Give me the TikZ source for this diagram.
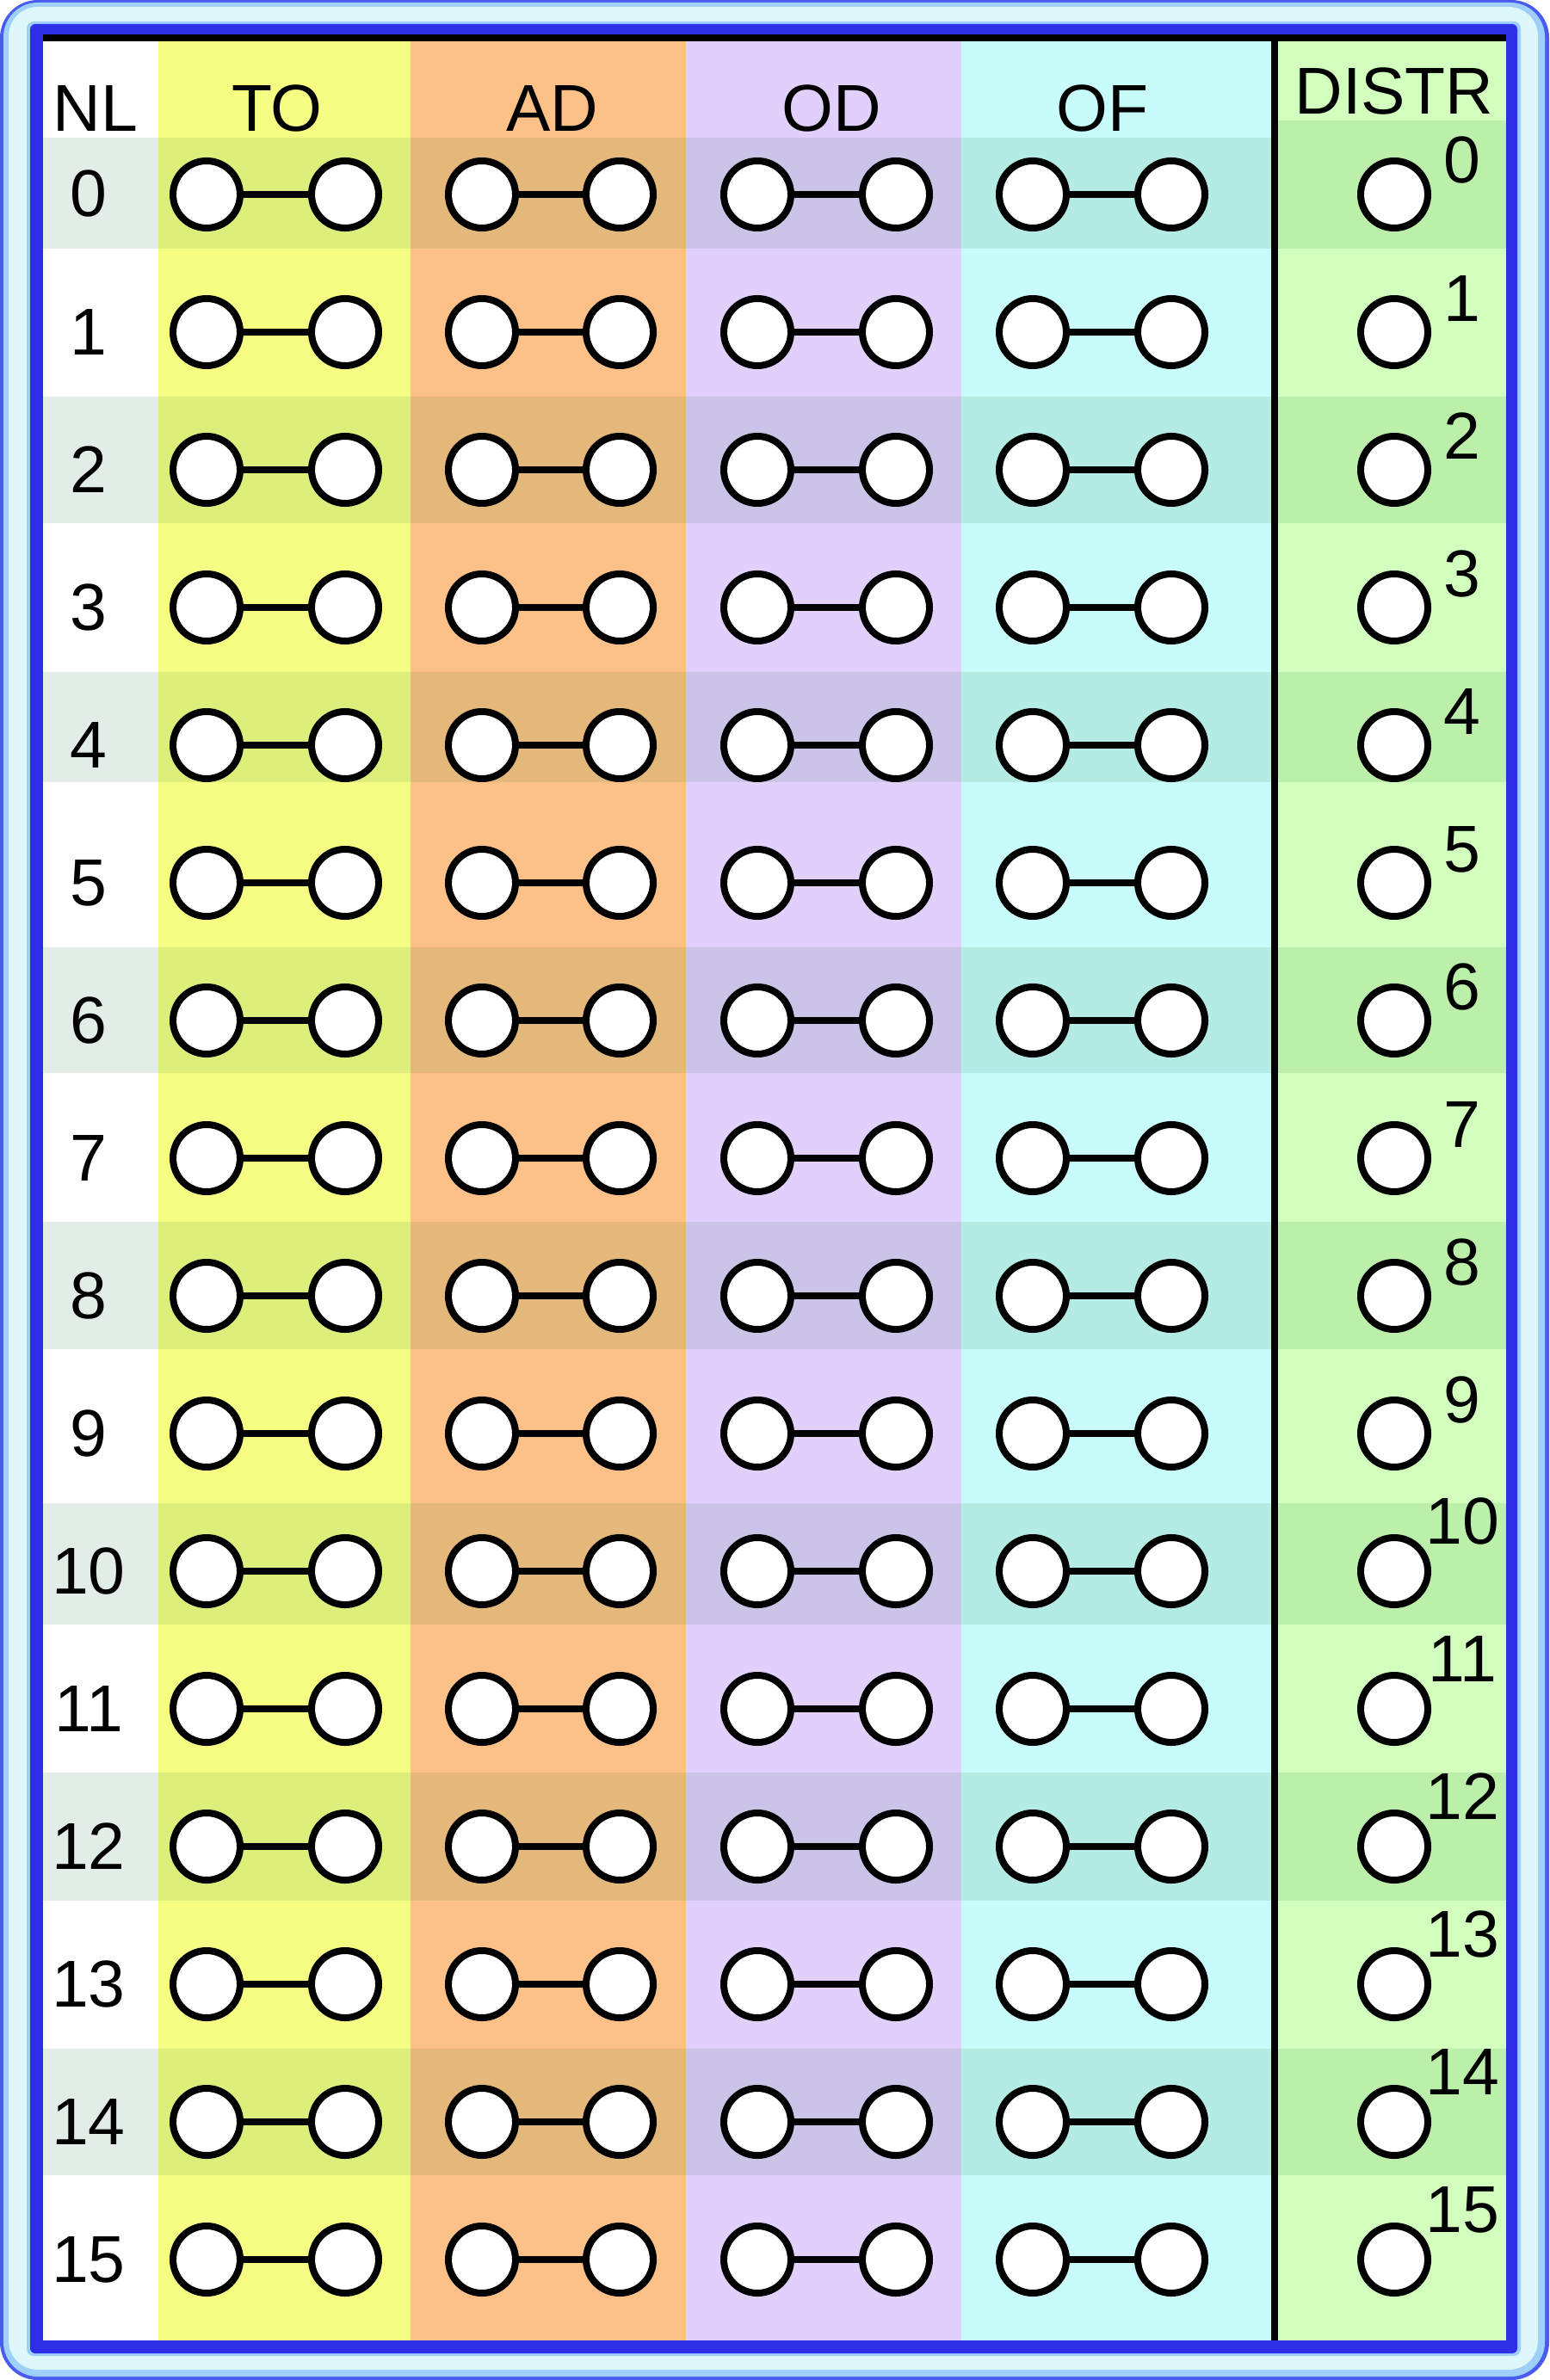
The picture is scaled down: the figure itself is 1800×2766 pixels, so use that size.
\documentclass[tikz,border=0pt]{standalone}
\usepackage{fontspec}
\setmainfont{Liberation Sans}
\definecolor{frameout}{HTML}{4A5CF0}
\definecolor{framelt}{HTML}{9FD0FA}
\definecolor{framepale}{HTML}{DDF7FA}
\definecolor{framedark}{HTML}{2E2EE6}
\definecolor{nlL}{HTML}{FFFFFF}\definecolor{nlD}{HTML}{E3EDE8}
\definecolor{toL}{HTML}{F5FD82}\definecolor{toD}{HTML}{DEEE7A}
\definecolor{adL}{HTML}{FDC087}\definecolor{adD}{HTML}{E4B77A}
\definecolor{odL}{HTML}{E2D0FC}\definecolor{odD}{HTML}{CBC4E8}
\definecolor{ofL}{HTML}{C8FCFA}\definecolor{ofD}{HTML}{B4EBE4}
\definecolor{diL}{HTML}{D2FFBE}\definecolor{diD}{HTML}{BCF0AA}
\begin{document}
\begin{tikzpicture}[x=0.5pt,y=-0.5pt,
  port/.style={circle,draw=black,fill=white,line width=4pt,minimum size=39pt,inner sep=0pt},
  link/.style={line width=3.8pt},
  lbl/.style={font=\fontsize{38.5}{40}\selectfont,inner sep=0pt,anchor=base},
]
\useasboundingbox (0,0) rectangle (1800,2766);
% frame
\fill[frameout,rounded corners=22pt] (0,0) rectangle (1800,2766);
\fill[framelt,rounded corners=20pt] (4,3) rectangle (1795,2762);
\fill[framepale,rounded corners=17pt] (10,8) rectangle (1787,2754);
\fill[framelt,rounded corners=4pt] (31,25) rectangle (1767,2738);
\fill[framedark,rounded corners=3pt] (35,28) rectangle (1763,2735);
% columns
\fill[nlL] (50,48) rectangle (184,2720);
\fill[toL] (184,48) rectangle (477,2720);
\fill[adL] (477,48) rectangle (797,2720);
\fill[odL] (797,48) rectangle (1117,2720);
\fill[ofL] (1117,48) rectangle (1477,2720);
\fill[diL] (1485,48) rectangle (1750,2720);
% even-row bands
\foreach \t/\b in {160/289,461/608,781/909,1101/1247,1420/1568,1747/1888,2060/2209,2381/2528}{
  \fill[nlD] (50,\t) rectangle (184,\b);
  \fill[toD] (184,\t) rectangle (477,\b);
  \fill[adD] (477,\t) rectangle (797,\b);
  \fill[odD] (797,\t) rectangle (1117,\b);
  \fill[ofD] (1117,\t) rectangle (1477,\b);
}
\foreach \t/\b in {140/289,461/608,781/909,1101/1247,1420/1568,1747/1888,2060/2209,2381/2528}{
  \fill[diD] (1485,\t) rectangle (1750,\b);
}
% black rules
\fill[black] (50,40) rectangle (1750,48);
\fill[black] (1477,40) rectangle (1485,2720);
% headers
\node[lbl] (hNL) at (111,153) {NL};
\node[lbl] (hTO) at (322,153) {TO};
\node[lbl] (hAD) at (642,153) {AD};
\node[lbl] (hOD) at (966,153) {OD};
\node[lbl] (hOF) at (1281,153) {OF};
\node[lbl] (hDI) at (1620,133) {DISTR};
% rows
\foreach \i in {0,...,15}{
  \pgfmathsetmacro{\cy}{226+160*\i}
  \pgfmathsetmacro{\by}{252+160*\i}
  \node[lbl] (nl-\i) at (103,\by) {\i};
  \foreach \col/\xa/\xb in {to/240/401,ad/560/720,od/880/1041,of/1200/1361}{
    \node[port] (\col-a-\i) at (\xa,\cy) {};
    \node[port] (\col-b-\i) at (\xb,\cy) {};
    \draw[link] (\col-a-\i) -- (\col-b-\i);
  }
  \node[port] (di-\i) at (1620,\cy) {};
  \ifnum\i<10
    \pgfmathsetmacro{\sy}{\cy-13}
  \else
    \pgfmathsetmacro{\sy}{\cy-32}
  \fi
  \node[lbl] (dl-\i) at (1699,\sy) {\i};
}
\end{tikzpicture}
\end{document}
